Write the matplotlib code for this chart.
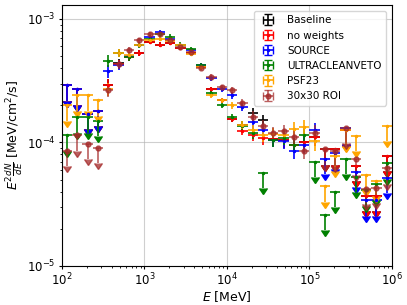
import matplotlib
matplotlib.use("Agg")
import matplotlib.pyplot as plt
import numpy as np

# energy bin edges [MeV], 8 bins per decade
e_edges = [100, 133.4, 177.8, 237.1, 316.2, 421.7, 562.3, 749.9,
           1000, 1334, 1778, 2371, 3162, 4217, 5623, 7499,
           1e4, 13335, 17783, 23714, 31623, 42170, 56234, 74989,
           1e5, 133352, 177828, 237137, 316228, 421697, 562341, 749894, 1e6]

# relative 1-sigma errors per bin (detected points)
rel_err = [0.10, 0.10, 0.10, 0.10, 0.12, 0.08, 0.06, 0.05,
           0.04, 0.04, 0.04, 0.04, 0.04, 0.04, 0.05, 0.05,
           0.06, 0.08, 0.10, 0.11, 0.12, 0.13, 0.14, 0.15,
           0.16, 0.16, 0.16, 0.16, 0.16, 0.16, 0.16, 0.16]

# E^2 dN/dE [MeV/cm2/s]
baseline = [2.9e-4, 2.7e-4, 1.7e-4, 1.8e-4, 2.9e-4, 4.4e-4, 4.9e-4, 5.3e-4,
            6.5e-4, 6.2e-4, 6.4e-4, 5.8e-4, 5.3e-4, 4.1e-4, 2.7e-4, 2.2e-4,
            1.55e-4, 1.38e-4, 1.72e-4, 1.51e-4, 1.06e-4, 1.04e-4, 9.6e-5, 1.0e-4,
            1.11e-4, 8.8e-5, 8.8e-5, 1.27e-4, 6.5e-5, 3.7e-5, 3.7e-5, 7.8e-5]
no_weights = [2.9e-4, 2.7e-4, 1.7e-4, 1.8e-4, 2.9e-4, 4.3e-4, 4.9e-4, 5.3e-4,
              6.5e-4, 6.2e-4, 6.4e-4, 5.8e-4, 5.3e-4, 4.1e-4, 2.7e-4, 2.2e-4,
              1.55e-4, 1.24e-4, 1.14e-4, 1.08e-4, 1.06e-4, 1.04e-4, 9.6e-5, 1.0e-4,
              1.11e-4, 8.8e-5, 8.8e-5, 1.27e-4, 6.5e-5, 3.7e-5, 3.7e-5, 7.8e-5]
source = [2.9e-4, 2.7e-4, 1.7e-4, 1.8e-4, 3.8e-4, 4.2e-4, 5.0e-4, 6.2e-4,
          7.1e-4, 7.8e-4, 6.9e-4, 6.1e-4, 5.6e-4, 4.2e-4, 3.3e-4, 2.7e-4,
          2.4e-4, 1.94e-4, 1.46e-4, 1.25e-4, 1.04e-4, 1.02e-4, 8.5e-5, 9.6e-5,
          1.25e-4, 7.4e-5, 8.2e-5, 1.3e-4, 5.8e-5, 3.4e-5, 3.4e-5, 5.2e-5]
ultraclean = [1.14e-4, 1.6e-4, 1.6e-4, 1.5e-4, 4.6e-4, 5.3e-4, 4.9e-4, 6.1e-4,
              6.9e-4, 7.5e-4, 7.2e-4, 6.2e-4, 5.7e-4, 4.2e-4, 2.5e-4, 2.0e-4,
              1.6e-4, 1.37e-4, 1.19e-4, 5.7e-5, 1.04e-4, 1.09e-4, 9.6e-5, 1.14e-4,
              7.0e-5, 2.6e-5, 4.0e-5, 7.4e-5, 5.3e-5, 4.1e-5, 4.6e-5, 6.8e-5]
psf23 = [2.0e-4, 2.4e-4, 2.4e-4, 2.2e-4, 2.7e-4, 5.3e-4, 5.1e-4, 6.2e-4,
         6.7e-4, 6.9e-4, 6.6e-4, 6.1e-4, 5.2e-4, 4.1e-4, 2.4e-4, 2.2e-4,
         2.0e-4, 1.39e-4, 1.25e-4, 1.14e-4, 1.16e-4, 1.14e-4, 1.29e-4, 1.33e-4,
         1.02e-4, 4.4e-5, 7.8e-5, 1.25e-4, 1.13e-4, 5.5e-5, 4.9e-5, 1.36e-4]
roi30 = [8.6e-5, 1.14e-4, 9.8e-5, 9.1e-5, 2.65e-4, 4.3e-4, 5.6e-4, 6.7e-4,
         7.5e-4, 7.6e-4, 6.8e-4, 5.9e-4, 5.4e-4, 4.0e-4, 3.4e-4, 2.8e-4,
         2.65e-4, 2.1e-4, 1.62e-4, 1.37e-4, 1.19e-4, 1.23e-4, 1.11e-4, 8.6e-5,
         1.2e-4, 8.8e-5, 8.6e-5, 1.31e-4, 7.3e-5, 4.2e-5, 4.3e-5, 6.2e-5]

# bins shown as upper limits
ul_baseline = [0, 1, 2, 3, 25, 26, 27, 28, 29, 30, 31]
ul_no_weights = [0, 1, 2, 3, 25, 26, 27, 28, 29, 30, 31]
ul_source = [0, 1, 2, 3, 25, 26, 27, 28, 29, 30, 31]
ul_ultraclean = [0, 1, 2, 3, 19, 24, 25, 26, 27, 28, 29, 30, 31]
ul_psf23 = [0, 1, 2, 3, 25, 26, 27, 28, 29, 30, 31]
ul_roi30 = [0, 1, 2, 3, 25, 26, 27, 28, 29, 30, 31]

labels = ["Baseline", "no weights", "SOURCE", "ULTRACLEANVETO", "PSF23", "30x30 ROI"]

plt.rcParams.update({
    "font.size": 8.5,
    "xtick.major.size": 2.5, "ytick.major.size": 2.5,
    "xtick.minor.size": 1.5, "ytick.minor.size": 1.5,
    "xtick.major.pad": 1.5, "ytick.major.pad": 2,
    "axes.labelpad": 1,
})

edges = np.array(e_edges)
e_lo, e_hi = edges[:-1], edges[1:]
e_c = np.sqrt(e_lo * e_hi)
xerr = [e_c - e_lo, e_hi - e_c]

fig, ax = plt.subplots(figsize=(4.07, 3.05), dpi=100)

series = [
    (baseline, ul_baseline, dict(color="black", fmt="none")),
    (no_weights, ul_no_weights, dict(color="red", fmt=".", ms=3)),
    (source, ul_source, dict(color="blue", fmt=".", ms=3)),
    (ultraclean, ul_ultraclean, dict(color="green", fmt=".", ms=3)),
    (psf23, ul_psf23, dict(color="orange", fmt=".", ms=3)),
    (roi30, ul_roi30, dict(color="brown", fmt="o", ms=3.5, alpha=0.75)),
]

for (vals, ul_idx, style), lab in zip(series, labels):
    v = np.array(vals)
    ul = np.zeros(len(v), dtype=bool)
    ul[ul_idx] = True
    yerr = np.where(ul, 0.25 * v, np.array(rel_err) * v)
    yhi = np.where(ul, 0.0, yerr)
    ax.errorbar(e_c, v, xerr=xerr, yerr=[yerr, yhi], uplims=ul,
                elinewidth=1.2, capsize=0, label=lab, **style)

ax.set_xscale("log")
ax.set_yscale("log")
ax.set_xlim(1e2, 1e6)
ax.set_ylim(1e-5, 1.3e-3)
ax.grid(True, which="major", color="#b0b0b0", alpha=0.6)
ax.set_xlabel("$E$ [MeV]", fontsize=9)
ax.set_ylabel(r"$E^2\frac{dN}{dE}$ [MeV/cm$^2$/s]", fontsize=9)
ax.legend(loc="upper right", fontsize=7.5, borderaxespad=0.6)

fig.subplots_adjust(left=0.152, right=0.963, top=0.984, bottom=0.128)
fig.savefig("out.png", dpi=100)
